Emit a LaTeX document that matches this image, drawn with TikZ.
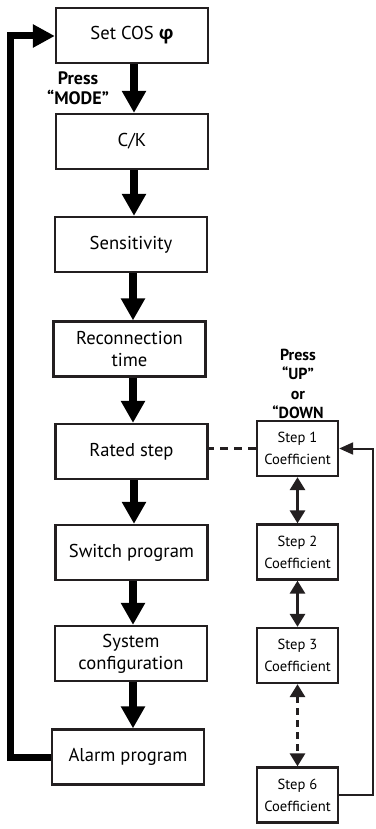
\documentclass[tikz,border=0pt]{standalone}
\usepackage{fontspec}
\setmainfont{PT Sans}
\newfontfamily\grk{Open Sans}
\usetikzlibrary{arrows.meta}
\definecolor{ink}{HTML}{231F20}
\tikzset{
  mainbox/.style={draw=ink, line width=2.3pt, minimum width=152pt, minimum height=55pt,
    align=center, font=\fontsize{18.6}{22}\selectfont, inner sep=0pt},
  stepbox/.style={draw=ink, line width=2.3pt, minimum width=81pt, minimum height=55pt,
    align=center, font=\fontsize{14.6}{22}\selectfont, inner sep=0pt},
  bigarrow/.style={draw=black, line width=7.5pt, -{Triangle[width=23pt,length=22pt]}},
  looparrow/.style={draw=black, line width=7pt, line join=miter, -{Triangle[width=22pt,length=22pt]}},
  steparrow/.style={draw=ink, line width=3pt, {Triangle[width=15pt,length=13pt]}-{Triangle[width=15pt,length=13pt]}},
  backarrow/.style={draw=ink, line width=2pt, -{Triangle[width=12pt,length=14pt]}},
  presslabel/.style={align=center, font=\bfseries\fontsize{18}{20}\selectfont, inner sep=0pt},
}
\begin{document}
\begin{tikzpicture}[x=1pt,y=-1pt]
\useasboundingbox (0,0) rectangle (375,829);
% main column
\node[mainbox] (cos)   at (132,35.5) {Set COS {\grk\bfseries φ}};
\node[mainbox] (ck)    at (132,141.5) {C/K};
\node[mainbox] (sens)  at (131,244.5) {Sensitivity};
\node[mainbox] (recon) at (129.5,349) {Reconnection\\time};
\node[mainbox] (rated) at (131.5,451.5) {Rated step};
\node[mainbox] (sw)    at (131.5,552.5) {Switch program};
\node[mainbox] (sys)   at (131,653.5) {System\\configuration};
\node[mainbox] (alarm) at (128,757) {Alarm program};
% labels
\node[presslabel] (mode) at (78,88) {Press\\“MODE”};
\node[presslabel, font=\bfseries\fontsize{16}{19.5}\selectfont] (updown) at (298,384) {Press\\“UP”\\or\\“DOWN};
% step column
\node[stepbox] (s1) at (297.5,448.5) {Step 1\\Coefficient};
\node[stepbox] (s2) at (297.5,552) {Step 2\\Coefficient};
\node[stepbox] (s3) at (297.5,655.5) {Step 3\\Coefficient};
\node[stepbox] (s6) at (297.5,795) {Step 6\\Coefficient};
% main arrows
\draw[bigarrow] (cos.south -| 134,0) -- (ck.north -| 134,0);
\draw[bigarrow] (ck.south -| 134,0) -- (sens.north -| 134,0);
\draw[bigarrow] (sens.south -| 133,0) -- (recon.north -| 133,0);
\draw[bigarrow] (recon.south -| 133,0) -- (rated.north -| 133,0);
\draw[bigarrow] (rated.south -| 134,0) -- (sw.north -| 134,0);
\draw[bigarrow] (sw.south -| 133,0) -- (sys.north -| 133,0);
\draw[bigarrow] (sys.south -| 133,0) -- (alarm.north -| 133,0);
% loop back
\coordinate (lb) at (10.5,757);
\coordinate (lt) at (10.5,36);
\draw[looparrow] (alarm.west) -- (lb) -- (lt) -- (lt -| cos.west);
% dashed link
\draw[ink, line width=3pt, dash pattern=on 8pt off 6pt] (s1.west) -- (s1.west -| rated.east);
% step arrows
\draw[steparrow] (s1.south) -- (s2.north);
\draw[steparrow] (s2.south) -- (s3.north);
\draw[steparrow, dash pattern=on 7pt off 5pt] (s3.south) -- (s6.north);
% return arrow
\coordinate (rb) at (373,795);
\coordinate (rt) at (373,448.5);
\draw[backarrow] (s6.east) -- (rb) -- (rt) -- (s1.east);
\end{tikzpicture}
\end{document}
